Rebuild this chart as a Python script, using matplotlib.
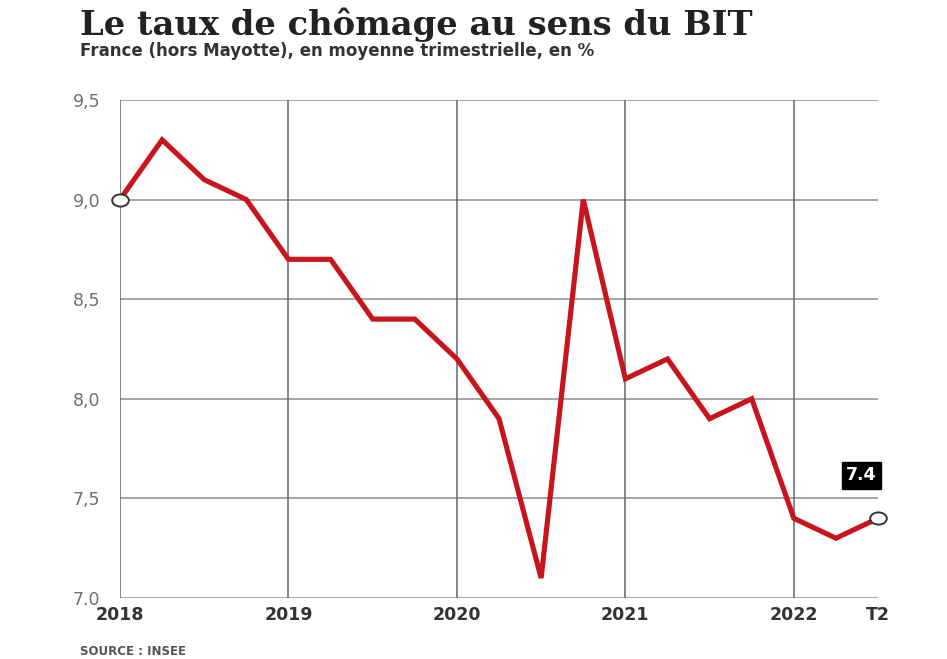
import matplotlib.pyplot as plt
from matplotlib.path import Path
from matplotlib.transforms import Affine2D

# Taux de chômage trimestriel (BIT), France hors Mayotte
quarters = list(range(19))
rates = [9.0, 9.3, 9.1, 9.0, 8.7, 8.7, 8.4, 8.4, 8.2, 7.9, 7.1, 9.0,
         8.1, 8.2, 7.9, 8.0, 7.4, 7.3, 7.4]
xtick_pos = [0, 4, 8, 12, 16, 18]
xtick_labels = ['2018', '2019', '2020', '2021', '2022', 'T2']
ytick_pos = [7.0, 7.5, 8.0, 8.5, 9.0, 9.5]
ytick_labels = ['7.0', '7,5', '8,0', '8,5', '9,0', '9,5']

fig = plt.figure(figsize=(9.47, 6.59), dpi=100)
ax = fig.add_axes([0.1267, 0.0926, 0.8005, 0.7557])

red = '#c8141c'
ax.plot(quarters, rates, color=red, lw=3.7, solid_joinstyle='miter', zorder=3)

# marqueur ovale (un peu plus large que haut)
oval = Path.unit_circle().transformed(Affine2D().scale(1.3, 0.95))
for i in (0, len(rates) - 1):
    ax.plot(quarters[i], rates[i], marker=oval, ms=12, mfc='white', mec='#333333',
            mew=1.4, zorder=4, clip_on=False, ls='none')

ax.set_xlim(0, 18)
ax.set_ylim(7.0, 9.5)
ax.set_xticks(xtick_pos)
ax.set_xticklabels(xtick_labels, fontsize=12.5, fontweight='bold', color='#333333')
ax.set_yticks(ytick_pos)
ax.set_yticklabels(ytick_labels, fontsize=12.5, color='#707070')
ax.tick_params(length=0, pad=6)
ax.tick_params(axis='y', pad=14)

# grille : lignes horizontales à chaque 0,5 et verticales à chaque année
for y in ytick_pos:
    ax.axhline(y, color='#8c8c8c', lw=1.1, zorder=1)
for x in xtick_pos[:-1]:
    ax.axvline(x, color='#666666', lw=1.1, zorder=1)
for s in ax.spines.values():
    s.set_visible(False)

# étiquette de la dernière valeur
ax.annotate(f'{rates[-1]:.1f}', xy=(quarters[-1], rates[-1]),
            xytext=(-12, 31), textcoords='offset points',
            ha='center', va='center', fontsize=12.5, fontweight='bold', color='white',
            bbox=dict(boxstyle='square,pad=0.25', fc='black', ec='black'),
            zorder=5, annotation_clip=False)

fig.text(0.0845, 0.963, 'Le taux de chômage au sens du BIT', family='DejaVu Serif',
         fontsize=24.3, fontweight='bold', color='#222222', va='center')
fig.text(0.0845, 0.923, 'France (hors Mayotte), en moyenne trimestrielle, en %',
         fontsize=12, fontweight='bold', color='#333333', va='center')
fig.text(0.0845, 0.012, 'SOURCE : INSEE', fontsize=8.5, fontweight='bold',
         color='#555555', va='center')

fig.savefig('out.png', dpi=100)
